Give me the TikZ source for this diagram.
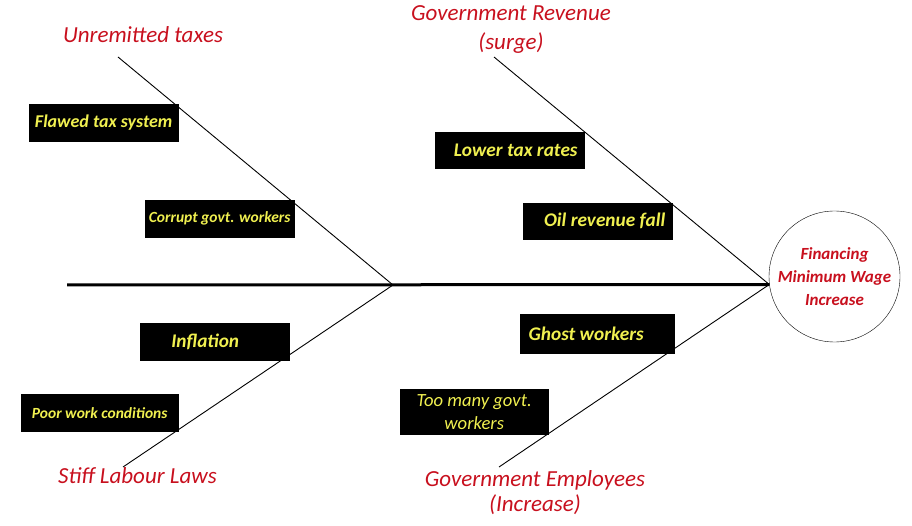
\documentclass[tikz,border=0pt]{standalone}
\usepackage{fontspec}
\setmainfont{Carlito}
\usepackage{xcolor}
\usepackage{tikz}
\usetikzlibrary{shapes,positioning}
\definecolor{titlered}{RGB}{200,16,30}
\definecolor{causeyellow}{RGB}{240,240,80}

\begin{document}
\begin{tikzpicture}[x=1pt,y=-1pt,
  causebox/.style={draw=black,fill=black,text=causeyellow,inner sep=0pt,align=center,
    font=\bfseries\itshape\fontsize{19.3}{23}\selectfont},
  bonetitle/.style={text=titlered,align=center,font=\itshape\fontsize{23}{27}\selectfont},
  bone/.style={line width=0.9pt}]
\useasboundingbox (0,0) rectangle (912,526);

% head
\node[draw,circle,minimum size=131pt,inner sep=0pt,text=titlered,align=center,
  font=\bfseries\itshape\fontsize{17}{23}\selectfont](effect) at (834.5,276.5) {Financing\\Minimum Wage\\Increase};

% spine and bones
\coordinate(T1) at (67,285);
\coordinate(J1) at (393,285);
\coordinate(E1) at (118,57);
\coordinate(E2) at (123,467);
\coordinate(E3) at (494,57);
\coordinate(E4) at (499,467);

\draw[line width=3pt] (T1) -- (effect.187);
\draw[bone] (E1) -- (J1);
\draw[bone] (E2) -- (J1);
\draw[bone] (E3) -- (effect.187);
\draw[bone] (E4) -- (effect.187);

% bone titles
\node[bonetitle,anchor=base](title1) at (143,43) {Unremitted taxes};
\node[bonetitle](title2) at (511,30) {Government Revenue\\[2pt](surge)};
\node[bonetitle,anchor=base](title3) at (137.5,483) {Stiff Labour Laws};
\node[bonetitle](title4) at (535,492.5) {Government Employees\\[-2pt](Increase)};

% causes
\coordinate(O1) at (29,104);
\node[below right=0cm of O1,causebox,minimum width=149pt,minimum height=37pt,
  font=\bfseries\itshape\fontsize{18}{22}\selectfont](cause1) {Flawed tax system};

\coordinate(O1) at (145,200);
\node[below right=0cm of O1,causebox,minimum width=149pt,minimum height=37pt,
  font=\bfseries\itshape\fontsize{15.5}{19}\selectfont](cause2) {Corrupt govt. workers};

\coordinate(O1) at (435,132);
\node[below right=0cm of O1,causebox,minimum width=149pt,minimum height=36pt](cause3) {\kern12pt Lower tax rates};

\coordinate(O1) at (523,203);
\node[below right=0cm of O1,causebox,minimum width=149pt,minimum height=36pt](cause4) {\kern14pt Oil revenue fall};

\coordinate(O1) at (140,323);
\node[below right=0cm of O1,causebox,minimum width=149pt,minimum height=37pt](cause5) {Inflation\kern19pt};

\coordinate(O1) at (21,394);
\node[below right=0cm of O1,causebox,minimum width=157pt,minimum height=37pt,
  font=\bfseries\itshape\fontsize{15.5}{19}\selectfont](cause6) {Poor work conditions};

\coordinate(O1) at (520,314);
\node[below right=0cm of O1,causebox,minimum width=154pt,minimum height=39pt](cause7) {Ghost workers\kern22pt};

\coordinate(O1) at (400,389);
\node[below right=0cm of O1,causebox,minimum width=148pt,minimum height=45pt,
  font=\mdseries\itshape\fontsize{18.6}{23}\selectfont](cause8) {Too many govt.\\workers};
\end{tikzpicture}
\end{document}
